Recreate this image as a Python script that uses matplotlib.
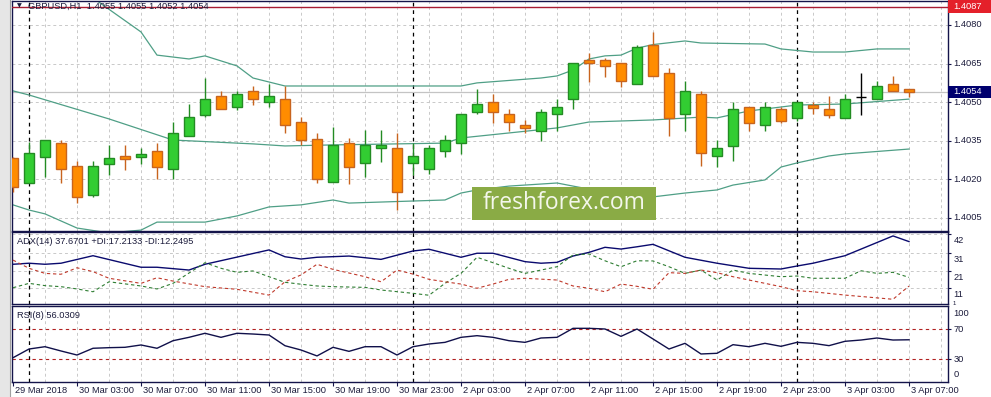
import matplotlib
matplotlib.use("Agg")
import matplotlib.pyplot as plt
from matplotlib.patches import Rectangle

# ---- data (GBPUSD H1) ----
opens = [1.40282, 1.40187, 1.40288, 1.40340, 1.40251, 1.40141, 1.40261, 1.40290, 1.40288, 1.40310,
         1.40239, 1.40370, 1.40451, 1.40524, 1.40480, 1.40542, 1.40500, 1.40511, 1.40423, 1.40358,
         1.40189, 1.40340, 1.40263, 1.40321, 1.40321, 1.40263, 1.40239, 1.40309, 1.40340, 1.40461,
         1.40500, 1.40453, 1.40410, 1.40389, 1.40453, 1.40511, 1.40663, 1.40663, 1.40651, 1.40570,
         1.40722, 1.40612, 1.40453, 1.40532, 1.40290, 1.40331, 1.40480, 1.40410, 1.40474, 1.40440,
         1.40490, 1.40472, 1.40440, 1.40521, 1.40511, 1.40571, 1.40550]
highs = [1.40287, 1.40347, 1.40352, 1.40352, 1.40272, 1.40272, 1.40333, 1.40333, 1.40322, 1.40340,
         1.40423, 1.40493, 1.40594, 1.40542, 1.40542, 1.40563, 1.40571, 1.40563, 1.40441, 1.40379,
         1.40402, 1.40360, 1.40392, 1.40392, 1.40379, 1.40340, 1.40334, 1.40373, 1.40453, 1.40550,
         1.40532, 1.40472, 1.40431, 1.40472, 1.40512, 1.40651, 1.40692, 1.40671, 1.40651, 1.40722,
         1.40773, 1.40632, 1.40582, 1.40544, 1.40353, 1.40501, 1.40480, 1.40501, 1.40480, 1.40500,
         1.40501, 1.40523, 1.40532, 1.40615, 1.40582, 1.40603, 1.40550]
lows = [1.40152, 1.40186, 1.40211, 1.40187, 1.40109, 1.40130, 1.40217, 1.40238, 1.40260, 1.40200,
        1.40200, 1.40370, 1.40441, 1.40472, 1.40471, 1.40490, 1.40480, 1.40379, 1.40333, 1.40187,
        1.40189, 1.40181, 1.40211, 1.40269, 1.40081, 1.40217, 1.40220, 1.40288, 1.40299, 1.40453,
        1.40420, 1.40389, 1.40381, 1.40350, 1.40389, 1.40472, 1.40578, 1.40599, 1.40560, 1.40570,
        1.40600, 1.40370, 1.40389, 1.40252, 1.40249, 1.40270, 1.40388, 1.40389, 1.40418, 1.40428,
        1.40453, 1.40440, 1.40440, 1.40450, 1.40511, 1.40545, 1.40520]
closes = [1.40169, 1.40301, 1.40352, 1.40239, 1.40130, 1.40251, 1.40282, 1.40280, 1.40300, 1.40249,
          1.40379, 1.40441, 1.40511, 1.40472, 1.40531, 1.40511, 1.40524, 1.40410, 1.40352, 1.40200,
          1.40334, 1.40249, 1.40334, 1.40333, 1.40150, 1.40290, 1.40321, 1.40352, 1.40453, 1.40493,
          1.40461, 1.40422, 1.40401, 1.40461, 1.40480, 1.40651, 1.40651, 1.40640, 1.40581, 1.40713,
          1.40600, 1.40440, 1.40542, 1.40301, 1.40321, 1.40472, 1.40420, 1.40480, 1.40428, 1.40500,
          1.40479, 1.40451, 1.40511, 1.40521, 1.40563, 1.40545, 1.40540]

# Bollinger bands (bar index, price)
bb_up_idx = [0, 5, 8, 9, 11, 12, 14, 15, 17, 28, 29, 33, 34, 35, 36, 37, 38, 39, 40, 42, 43, 47, 48, 50, 52, 54, 56]
bb_up = [1.41053, 1.40905, 1.40773, 1.40683, 1.40668, 1.40680, 1.40641, 1.40594, 1.40563, 1.40563,
         1.40575, 1.40594, 1.40602, 1.40625, 1.40668, 1.40680, 1.40683, 1.40710, 1.40724, 1.40738,
         1.40730, 1.40726, 1.40707, 1.40695, 1.40695, 1.40707, 1.40707]
bb_mid_idx = [0, 1, 6, 10, 15, 17, 20, 27, 28, 34, 36, 40, 43, 44, 46, 49, 52, 56]
bb_mid = [1.40544, 1.40528, 1.40435, 1.40353, 1.40338, 1.40330, 1.40334, 1.40341, 1.40361, 1.40400,
          1.40423, 1.40431, 1.40442, 1.40439, 1.40466, 1.40489, 1.40493, 1.40512]
bb_low_idx = [0, 1, 2, 4, 6, 8, 9, 12, 14, 16, 18, 20, 21, 27, 28, 29, 31, 34, 35, 38, 40, 42, 44, 45,
              47, 48, 49, 51, 52, 56]
bb_low = [1.40101, 1.40081, 1.40066, 1.40011, 1.39992, 1.40003, 1.40034, 1.40034, 1.40058, 1.40093,
          1.40101, 1.40120, 1.40108, 1.40120, 1.40147, 1.40159, 1.40174, 1.40186, 1.40174, 1.40139,
          1.40132, 1.40147, 1.40159, 1.40178, 1.40198, 1.40248, 1.40264, 1.40291, 1.40299, 1.40318]

# ADX(14)
adx_idx = [0, 1, 2, 3, 5, 8, 9, 11, 12, 16, 17, 18, 19, 21, 23, 25, 26, 28, 29, 30, 32, 33, 34, 35, 36,
           37, 38, 39, 40, 42, 44, 46, 48, 49, 50, 52, 55, 56]
adx = [24.7, 25.3, 24.7, 25.3, 29.6, 23.0, 23.0, 21.4, 24.7, 32.9, 29.0, 27.7, 28.7, 29.4, 27.5, 32.3,
       33.3, 28.7, 31.0, 31.0, 26.2, 25.3, 25.8, 29.4, 31.5, 34.4, 33.4, 34.7, 36.1, 28.7, 25.3, 22.4,
       22.0, 23.7, 25.3, 29.6, 40.9, 37.67]
pdi_idx = [0, 1, 2, 3, 4, 5, 6, 8, 9, 10, 12, 13, 14, 15, 16, 17, 18, 19, 20, 22, 23, 25, 26, 27, 28,
           29, 30, 31, 32, 33, 34, 35, 36, 37, 38, 39, 40, 41, 42, 43, 44, 45, 46, 48, 49, 50, 52, 53,
           54, 55, 56]
pdi = [11.3, 13.8, 12.5, 11.9, 10.6, 9.0, 14.7, 12.3, 10.6, 13.8, 25.6, 22.4, 20.1, 20.9, 17.6, 14.4,
       13.3, 12.3, 11.9, 11.5, 10.0, 8.1, 7.0, 13.8, 19.5, 28.7, 25.6, 22.4, 19.5, 21.4, 23.3, 30.0,
       30.6, 26.7, 23.3, 26.7, 26.6, 23.3, 19.5, 21.4, 15.7, 21.4, 19.5, 17.6, 18.0, 16.7, 16.7, 21.0,
       19.5, 20.1, 17.21]
mdi_idx = [0, 1, 2, 3, 4, 5, 6, 8, 9, 10, 12, 14, 16, 17, 18, 19, 20, 22, 23, 24, 25, 26, 27, 28, 29,
           30, 31, 32, 34, 35, 36, 37, 38, 39, 40, 41, 42, 43, 44, 45, 46, 48, 49, 50, 52, 55, 56]
mdi = [27.1, 22.4, 19.5, 19.0, 22.7, 20.5, 16.7, 13.8, 17.0, 15.1, 11.9, 10.4, 7.1, 14.7, 18.6, 24.7,
       21.8, 17.6, 14.7, 21.4, 19.1, 16.1, 14.7, 13.4, 11.0, 13.4, 16.1, 16.7, 15.7, 12.3, 11.0, 9.0,
       13.4, 12.1, 10.4, 19.9, 19.5, 21.4, 19.9, 17.6, 15.7, 11.9, 9.6, 9.0, 7.1, 4.7, 12.25]

# RSI(8), one value per bar
rsi = [32.1, 43.7, 46.8, 41.1, 35.7, 44.7, 45.5, 46.0, 49.1, 44.7, 54.8, 59.3, 64.7, 59.3, 64.7, 63.7,
       62.4, 48.1, 42.4, 34.5, 46.0, 40.6, 46.8, 46.8, 35.7, 46.8, 50.4, 52.6, 59.3, 61.5, 59.3, 54.8,
       52.6, 58.4, 59.3, 71.3, 71.3, 70.4, 60.6, 70.4, 57.1, 43.7, 51.3, 37.1, 38.0, 49.5, 46.8, 51.3,
       47.3, 52.6, 51.3, 48.2, 54.0, 55.7, 58.4, 55.7, 56.03]

time_labels = ["29 Mar 2018", "30 Mar 03:00", "30 Mar 07:00", "30 Mar 11:00", "30 Mar 15:00",
               "30 Mar 19:00", "30 Mar 23:00", "2 Apr 03:00", "2 Apr 07:00", "2 Apr 11:00",
               "2 Apr 15:00", "2 Apr 19:00", "2 Apr 23:00", "3 Apr 03:00", "3 Apr 07:00"]
label_bars = [0, 4, 8, 12, 16, 20, 24, 28, 32, 36, 40, 44, 48, 52, 56]
day_breaks = [1, 25, 49]

price_ticks = [1.4080, 1.4065, 1.4050, 1.4035, 1.4020, 1.4005]
adx_ticks = [42, 31, 21, 11]
alert_price = 1.4087
last_price = 1.4054

# ---- styling ----
W, H = 991, 397
FONT = "Liberation Sans"
FS = 6.7
TXT = "#1c1c3c"
FRAME = "#14144a"
GRID = "#c9c9c9"
BULL, BULL_EDGE = "#32cd32", "#238b23"
BEAR, BEAR_EDGE = "#ff8c00", "#c8641e"
BAND = "#4f9f86"
PX_PER_PRICE = 25733
plt.rcParams["font.family"] = [FONT, "DejaVu Sans"]

fig = plt.figure(figsize=(W / 100, H / 100), dpi=100)
fig.patch.set_facecolor("white")


def px_axes(left, top, right, bottom):
    return fig.add_axes([left / W, 1 - bottom / H, (right - left) / W, (bottom - top) / H])


def px_to_fig(x, y):
    return x / W, 1 - y / H


x_left = (12 - 13) / 16
x_right = (948 - 13) / 16

ax = px_axes(12, 1, 948, 231)
ax_adx = px_axes(12, 232, 948, 304)
ax_rsi = px_axes(12, 306, 948, 382)

ax.set_ylim(1.4080 - 206 / PX_PER_PRICE, 1.4080 + 24 / PX_PER_PRICE)
ax_adx.set_ylim(42 - 70 / 1.75, 42 + 2 / 1.75)
ax_rsi.set_ylim(30 - 22.7 / 0.75, 70 + 23.3 / 0.75)

grid_bars = list(range(2, 59, 2))
for a in (ax, ax_adx, ax_rsi):
    a.set_xlim(x_left, x_right)
    a.set_facecolor("white")
    for s in a.spines.values():
        s.set_color(FRAME)
        s.set_linewidth(1.0)
    for gx in grid_bars:
        a.axvline(gx, color=GRID, lw=0.7, ls=(0, (3, 3)), zorder=0)
    for d in day_breaks:
        a.axvline(d, color="black", lw=0.9, ls=(0, (3, 3)), zorder=1)
    a.tick_params(axis="both", which="both", labelleft=False, labelbottom=False,
                  left=False, bottom=False, right=True, direction="out", length=2.2,
                  color=FRAME, width=0.8)


def right_label(a, value, text, dy_px=0.0, size=FS, dx_pt=3.8):
    a.annotate(text, xy=(1, value), xycoords=a.get_yaxis_transform(),
               xytext=(dx_pt, -dy_px * 0.72), textcoords="offset points",
               va="center", ha="left", fontsize=size, color=TXT, annotation_clip=False)


def price_box(a, price, text, color, height_px):
    half = height_px / 2 / PX_PER_PRICE
    a.add_patch(Rectangle((1.0, price - half), 43 / 936, 2 * half,
                          transform=a.get_yaxis_transform(), facecolor=color,
                          edgecolor="none", clip_on=False, zorder=6))
    a.annotate(text, xy=(1, price), xycoords=a.get_yaxis_transform(),
               xytext=(3.8, 0), textcoords="offset points", va="center", ha="left",
               fontsize=FS, color="white", annotation_clip=False, zorder=7)


# ---- main price panel ----
ax.set_xticks([])
ax.set_yticks(price_ticks)
for p in price_ticks:
    ax.axhline(p, color=GRID, lw=0.7, ls=(0, (3, 3)), zorder=0)
    right_label(ax, p, f"{p:.4f}")

ax.plot(bb_up_idx, bb_up, color=BAND, lw=0.9, zorder=2)
ax.plot(bb_mid_idx, bb_mid, color=BAND, lw=0.9, zorder=2)
ax.plot(bb_low_idx, bb_low, color=BAND, lw=0.9, zorder=2)

ax.axhline(last_price, color="#c4c4c4", lw=0.9, zorder=1)

bars = list(range(len(closes)))
body_w = 0.63
for i in bars:
    o, h, l, c = opens[i], highs[i], lows[i], closes[i]
    if c > o:
        fc, ec = BULL, BULL_EDGE
    elif c < o:
        fc, ec = BEAR, BEAR_EDGE
    else:
        fc, ec = "black", "black"
    ax.vlines(i, l, h, color=ec, lw=1.0, zorder=3)
    if c == o:
        ax.hlines(o, i - body_w / 2, i + body_w / 2, color=ec, lw=1.0, zorder=4)
    else:
        ax.bar(i, abs(c - o), bottom=min(o, c), width=body_w, color=fc,
               edgecolor=ec, linewidth=1.0, zorder=4)

ax.axhline(alert_price, color="#a81c32", lw=1.0, zorder=5)
price_box(ax, alert_price, f"{alert_price:.4f}", "#e4202a", 13)
price_box(ax, last_price, f"{last_price:.4f}", "#00006e", 12)

fig.text(*px_to_fig(17, 6), "\u25bc", fontsize=4.5, color=TXT, va="center", ha="left",
         family="DejaVu Sans")
fig.text(*px_to_fig(28, 6), "GBPUSD,H1  1.4055 1.4055 1.4052 1.4054", fontsize=FS,
         color=TXT, va="center", ha="left")

# watermark
wx0, wy0 = px_to_fig(472, 220)
wx1, wy1 = px_to_fig(656, 187)
fig.patches.append(Rectangle((wx0, wy0), wx1 - wx0, wy1 - wy0, transform=fig.transFigure,
                             facecolor="#8aab45", edgecolor="none", zorder=10))
fig.text(*px_to_fig(564, 203), "freshforex.com", fontsize=16.5, color="#f4f7ec",
         ha="center", va="center", family=["Open Sans", "DejaVu Sans"], zorder=11)

# ---- ADX panel ----
ax_adx.set_xticks([])
ax_adx.set_yticks(adx_ticks)
for v in adx_ticks:
    ax_adx.axhline(v, color=GRID, lw=0.7, ls=(0, (3, 3)), zorder=0)
    right_label(ax_adx, v, str(v), dy_px=6.5)
right_label(ax_adx, 11, "1", dy_px=14.8, size=4.4, dx_pt=3.0)
ax_adx.plot(adx_idx, adx, color="#0a0a6e", lw=1.0, zorder=3)
ax_adx.plot(pdi_idx, pdi, color="#2e7d32", lw=0.8, ls=(0, (3, 2.5)), zorder=3)
ax_adx.plot(mdi_idx, mdi, color="#c0392b", lw=0.8, ls=(0, (3, 2.5)), zorder=3)
ax_adx.text(*px_to_fig(17, 241), "ADX(14) 37.6701 +DI:17.2133 -DI:12.2495", fontsize=FS,
            color=TXT, va="center", ha="left", transform=fig.transFigure)

# ---- RSI panel ----
ax_rsi.set_yticks([70, 30])
for lvl in (70, 30):
    ax_rsi.axhline(lvl, color="#b22222", lw=0.8, ls=(0, (3, 3)), zorder=1)
right_label(ax_rsi, 100, "100", dy_px=6.5)
right_label(ax_rsi, 70, "70")
right_label(ax_rsi, 30, "30")
right_label(ax_rsi, 0, "0", dy_px=-7.5)
ax_rsi.plot(bars, rsi, color="#10104a", lw=1.0, zorder=3)
ax_rsi.text(*px_to_fig(17, 315), "RSI(8) 56.0309", fontsize=FS, color=TXT,
            va="center", ha="left", transform=fig.transFigure)

ax_rsi.set_xticks(label_bars)
ax_rsi.tick_params(axis="x", bottom=True, direction="out", length=3, color=FRAME)
for b, lab in zip(label_bars, time_labels):
    ax_rsi.annotate(lab, xy=(b, 0), xycoords=ax_rsi.get_xaxis_transform(),
                    xytext=(1.2, -6.2), textcoords="offset points", va="center", ha="left",
                    fontsize=FS, color=TXT, annotation_clip=False)

# window frame strip on the left
sx0, sy0 = px_to_fig(0, 397)
sx1, sy1 = px_to_fig(10, 0)
fig.patches.append(Rectangle((sx0, sy0), sx1 - sx0, sy1 - sy0, transform=fig.transFigure,
                             facecolor="#e6e6e6", edgecolor="none"))
fig.add_artist(plt.Line2D([10 / W, 10 / W], [0, 1], color="#a0a0a0", lw=0.8))

fig.savefig("out.png", dpi=100)
